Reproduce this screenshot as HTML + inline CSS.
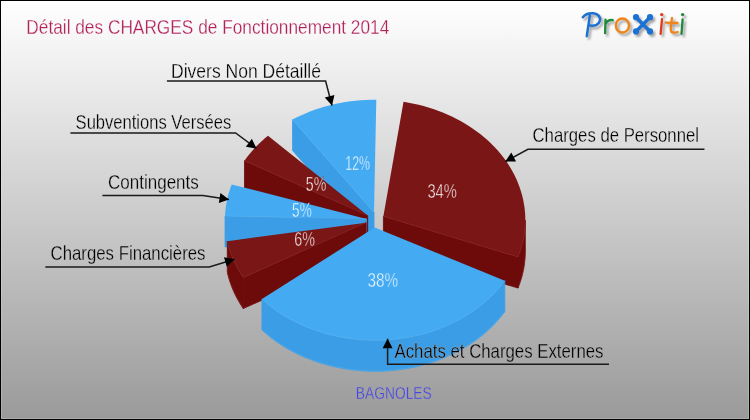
<!DOCTYPE html>
<html><head><meta charset="utf-8"><style>
html,body{margin:0;padding:0;}
body{width:750px;height:420px;overflow:hidden;position:relative;font-family:"Liberation Sans",sans-serif;}
svg{position:absolute;left:0;top:0;}
svg text{font-family:"Liberation Sans",sans-serif;}
</style></head><body>
<svg width="750" height="420" viewBox="0 0 750 420">
<defs>
<linearGradient id="bg" x1="0" y1="0" x2="0" y2="1">
<stop offset="0" stop-color="#ffffff"/>
<stop offset="1" stop-color="#9a9a9a"/>
</linearGradient>
<linearGradient id="bgu" gradientUnits="userSpaceOnUse" x1="0" y1="1" x2="0" y2="419">
<stop offset="0" stop-color="#ffffff"/>
<stop offset="1" stop-color="#9a9a9a"/>
</linearGradient>
<filter id="id" x="0" y="0" width="750" height="420" filterUnits="userSpaceOnUse"><feOffset dx="0" dy="0"/></filter>
<filter id="blur" x="-10%" y="-10%" width="120%" height="120%"><feGaussianBlur stdDeviation="0.8"/></filter>
</defs>
<rect x="0" y="0" width="750" height="420" fill="#000"/>
<rect x="1" y="1" width="748" height="418" fill="url(#bg)"/>
<rect x="1.5" y="1.5" width="747" height="417" fill="none" stroke="#ffffff" stroke-opacity="0.18" stroke-width="1"/>
<path d="M374.00,212.30 L292.52,119.52 L292.52,150.52 L374.00,243.30Z" fill="#3b9de5" stroke="#3b9de5" stroke-width="0.8" stroke-linejoin="round"/>
<path d="M374.00,212.30 L292.52,119.52 L296.93,117.29 L301.43,115.17 L306.01,113.19 L310.68,111.33 L315.43,109.60 L320.25,108.01 L325.14,106.55 L330.08,105.23 L335.08,104.05 L340.13,103.00 L345.22,102.10 L350.35,101.34 L355.51,100.72 L360.69,100.25 L365.89,99.92 L371.10,99.73 L376.31,99.69Z" fill="#44aaf2"/>
<path d="M374.00,212.30 L292.52,119.52" fill="none" stroke="#6cc4ff" stroke-width="1" stroke-opacity="0.3"/>
<path d="M525.31,219.99 L525.22,224.18 L524.95,228.36 L524.49,232.53 L523.86,236.69 L523.04,240.82 L522.05,244.93 L520.87,249.01 L519.52,253.06 L518.00,257.06 L518.00,288.06 L519.52,284.06 L520.87,280.01 L522.05,275.93 L523.04,271.82 L523.86,267.69 L524.49,263.53 L524.95,259.36 L525.22,255.18 L525.31,250.99Z" fill="#6d0a0a" stroke="#6d0a0a" stroke-width="0.8" stroke-linejoin="round"/>
<path d="M383.40,216.30 L518.00,257.06 L518.00,288.06 L383.40,247.30Z" fill="#6d0a0a" stroke="#6d0a0a" stroke-width="0.8" stroke-linejoin="round"/>
<path d="M383.40,216.30 L403.53,101.86 L408.61,102.72 L413.65,103.71 L418.64,104.85 L423.58,106.12 L428.47,107.53 L433.29,109.08 L438.04,110.75 L442.71,112.56 L447.31,114.50 L451.82,116.56 L456.23,118.74 L460.55,121.05 L464.77,123.47 L468.88,126.01 L472.88,128.66 L476.76,131.42 L480.52,134.29 L484.16,137.26 L487.66,140.33 L491.03,143.49 L494.26,146.74 L497.35,150.09 L500.30,153.51 L503.09,157.02 L505.73,160.60 L508.22,164.25 L510.54,167.97 L512.70,171.75 L514.70,175.58 L516.54,179.47 L518.20,183.41 L519.69,187.40 L521.01,191.42 L522.16,195.47 L523.13,199.56 L523.92,203.67 L524.54,207.80 L524.97,211.94 L525.23,216.09 L525.31,220.25 L525.21,224.41 L524.93,228.56 L524.47,232.70 L523.83,236.83 L523.02,240.94 L522.02,245.02 L520.86,249.07 L519.51,253.09 L518.00,257.06Z" fill="#7a1616"/>
<path d="M383.40,216.30 L518.00,257.06" fill="none" stroke="#a03434" stroke-width="1" stroke-opacity="0.3"/>
<path d="M525.31,219.99 L525.22,224.18 L524.95,228.36 L524.49,232.53 L523.86,236.69 L523.04,240.82 L522.05,244.93 L520.87,249.01 L519.52,253.06 L518.00,257.06" fill="none" stroke="#a03434" stroke-width="1" stroke-opacity="0.3"/>
<path d="M525.31,250.49 L525.22,254.68 L524.95,258.86 L524.49,263.03 L523.86,267.19 L523.04,271.32 L522.05,275.43 L520.87,279.51 L519.52,283.56 L518.00,287.56" fill="none" stroke="#a03434" stroke-width="1" stroke-opacity="0.25"/>
<path d="M367.70,215.60 L244.47,160.68 L244.47,191.68 L367.70,246.60Z" fill="#6d0a0a" stroke="#6d0a0a" stroke-width="0.8" stroke-linejoin="round"/>
<path d="M367.70,215.60 L244.47,160.68 L246.95,157.30 L249.57,153.99 L252.32,150.74 L255.21,147.57 L258.22,144.48 L261.35,141.47 L264.61,138.54 L267.98,135.70Z" fill="#7a1616"/>
<path d="M367.70,215.60 L244.47,160.68" fill="none" stroke="#a03434" stroke-width="1" stroke-opacity="0.3"/>
<path d="M366.50,218.90 L225.03,215.98 L225.03,246.98 L366.50,249.90Z" fill="#3b9de5" stroke="#3b9de5" stroke-width="0.8" stroke-linejoin="round"/>
<path d="M366.50,218.90 L225.03,215.98 L225.28,211.97 L225.70,207.96 L226.29,203.97 L227.04,200.00 L227.95,196.05 L229.03,192.13 L230.28,188.23 L231.68,184.38Z" fill="#44aaf2"/>
<path d="M366.50,218.90 L225.03,215.98" fill="none" stroke="#6cc4ff" stroke-width="1" stroke-opacity="0.3"/>
<path d="M243.25,277.54 L241.00,274.11 L238.90,270.62 L236.93,267.08 L235.11,263.49 L233.43,259.85 L231.90,256.17 L230.52,252.46 L229.29,248.71 L228.21,244.93 L227.29,241.13 L227.29,272.13 L228.21,275.93 L229.29,279.71 L230.52,283.46 L231.90,287.17 L233.43,290.85 L235.11,294.49 L236.93,298.08 L238.90,301.62 L241.00,305.11 L243.25,308.54Z" fill="#6d0a0a" stroke="#6d0a0a" stroke-width="0.8" stroke-linejoin="round"/>
<path d="M366.10,222.70 L243.25,277.54 L243.25,308.54 L366.10,253.70Z" fill="#6d0a0a" stroke="#6d0a0a" stroke-width="0.8" stroke-linejoin="round"/>
<path d="M366.10,222.70 L243.25,277.54 L241.00,274.11 L238.90,270.62 L236.93,267.08 L235.11,263.49 L233.43,259.85 L231.90,256.17 L230.52,252.46 L229.29,248.71 L228.21,244.93 L227.29,241.13Z" fill="#7a1616"/>
<path d="M366.10,222.70 L243.25,277.54" fill="none" stroke="#a03434" stroke-width="1" stroke-opacity="0.3"/>
<path d="M243.25,277.54 L241.00,274.11 L238.90,270.62 L236.93,267.08 L235.11,263.49 L233.43,259.85 L231.90,256.17 L230.52,252.46 L229.29,248.71 L228.21,244.93 L227.29,241.13" fill="none" stroke="#a03434" stroke-width="1" stroke-opacity="0.3"/>
<path d="M243.25,308.04 L241.00,304.61 L238.90,301.12 L236.93,297.58 L235.11,293.99 L233.43,290.35 L231.90,286.67 L230.52,282.96 L229.29,279.21 L228.21,275.43 L227.29,271.63" fill="none" stroke="#a03434" stroke-width="1" stroke-opacity="0.25"/>
<path d="M504.78,280.70 L502.09,284.25 L499.25,287.71 L496.27,291.10 L493.14,294.40 L489.86,297.61 L486.46,300.73 L482.92,303.76 L479.25,306.68 L475.46,309.51 L471.55,312.22 L467.52,314.83 L463.39,317.32 L459.15,319.70 L454.81,321.96 L450.38,324.10 L445.85,326.12 L441.25,328.00 L436.56,329.77 L431.80,331.40 L426.98,332.89 L422.09,334.26 L417.14,335.49 L412.15,336.58 L407.11,337.53 L402.04,338.34 L396.93,339.02 L391.80,339.55 L386.65,339.94 L381.48,340.18 L376.30,340.29 L371.13,340.25 L365.96,340.07 L360.80,339.74 L355.66,339.27 L350.54,338.67 L345.45,337.92 L340.39,337.03 L335.38,336.00 L330.41,334.83 L325.50,333.53 L320.64,332.09 L315.85,330.52 L311.13,328.82 L306.49,326.99 L301.93,325.03 L297.45,322.95 L293.07,320.74 L288.78,318.42 L284.60,315.98 L280.52,313.42 L276.56,310.75 L272.72,307.98 L268.99,305.10 L265.39,302.12 L261.93,299.04 L261.93,330.04 L265.39,333.12 L268.99,336.10 L272.72,338.98 L276.56,341.75 L280.52,344.42 L284.60,346.98 L288.78,349.42 L293.07,351.74 L297.45,353.95 L301.93,356.03 L306.49,357.99 L311.13,359.82 L315.85,361.52 L320.64,363.09 L325.50,364.53 L330.41,365.83 L335.38,367.00 L340.39,368.03 L345.45,368.92 L350.54,369.67 L355.66,370.27 L360.80,370.74 L365.96,371.07 L371.13,371.25 L376.30,371.29 L381.48,371.18 L386.65,370.94 L391.80,370.55 L396.93,370.02 L402.04,369.34 L407.11,368.53 L412.15,367.58 L417.14,366.49 L422.09,365.26 L426.98,363.89 L431.80,362.40 L436.56,360.77 L441.25,359.00 L445.85,357.12 L450.38,355.10 L454.81,352.96 L459.15,350.70 L463.39,348.32 L467.52,345.83 L471.55,343.22 L475.46,340.51 L479.25,337.68 L482.92,334.76 L486.46,331.73 L489.86,328.61 L493.14,325.40 L496.27,322.10 L499.25,318.71 L502.09,315.25 L504.78,311.70Z" fill="#3b9de5" stroke="#3b9de5" stroke-width="0.8" stroke-linejoin="round"/>
<path d="M374.70,227.50 L504.78,280.70 L502.09,284.25 L499.25,287.71 L496.27,291.10 L493.14,294.40 L489.86,297.61 L486.46,300.73 L482.92,303.76 L479.25,306.68 L475.46,309.51 L471.55,312.22 L467.52,314.83 L463.39,317.32 L459.15,319.70 L454.81,321.96 L450.38,324.10 L445.85,326.12 L441.25,328.00 L436.56,329.77 L431.80,331.40 L426.98,332.89 L422.09,334.26 L417.14,335.49 L412.15,336.58 L407.11,337.53 L402.04,338.34 L396.93,339.02 L391.80,339.55 L386.65,339.94 L381.48,340.18 L376.30,340.29 L371.13,340.25 L365.96,340.07 L360.80,339.74 L355.66,339.27 L350.54,338.67 L345.45,337.92 L340.39,337.03 L335.38,336.00 L330.41,334.83 L325.50,333.53 L320.64,332.09 L315.85,330.52 L311.13,328.82 L306.49,326.99 L301.93,325.03 L297.45,322.95 L293.07,320.74 L288.78,318.42 L284.60,315.98 L280.52,313.42 L276.56,310.75 L272.72,307.98 L268.99,305.10 L265.39,302.12 L261.93,299.04Z" fill="#44aaf2"/>
<path d="M504.78,280.70 L502.09,284.25 L499.25,287.71 L496.27,291.10 L493.14,294.40 L489.86,297.61 L486.46,300.73 L482.92,303.76 L479.25,306.68 L475.46,309.51 L471.55,312.22 L467.52,314.83 L463.39,317.32 L459.15,319.70 L454.81,321.96 L450.38,324.10 L445.85,326.12 L441.25,328.00 L436.56,329.77 L431.80,331.40 L426.98,332.89 L422.09,334.26 L417.14,335.49 L412.15,336.58 L407.11,337.53 L402.04,338.34 L396.93,339.02 L391.80,339.55 L386.65,339.94 L381.48,340.18 L376.30,340.29 L371.13,340.25 L365.96,340.07 L360.80,339.74 L355.66,339.27 L350.54,338.67 L345.45,337.92 L340.39,337.03 L335.38,336.00 L330.41,334.83 L325.50,333.53 L320.64,332.09 L315.85,330.52 L311.13,328.82 L306.49,326.99 L301.93,325.03 L297.45,322.95 L293.07,320.74 L288.78,318.42 L284.60,315.98 L280.52,313.42 L276.56,310.75 L272.72,307.98 L268.99,305.10 L265.39,302.12 L261.93,299.04" fill="none" stroke="#6cc4ff" stroke-width="1" stroke-opacity="0.3"/>
<path d="M504.78,311.20 L502.09,314.75 L499.25,318.21 L496.27,321.60 L493.14,324.90 L489.86,328.11 L486.46,331.23 L482.92,334.26 L479.25,337.18 L475.46,340.01 L471.55,342.72 L467.52,345.33 L463.39,347.82 L459.15,350.20 L454.81,352.46 L450.38,354.60 L445.85,356.62 L441.25,358.50 L436.56,360.27 L431.80,361.90 L426.98,363.39 L422.09,364.76 L417.14,365.99 L412.15,367.08 L407.11,368.03 L402.04,368.84 L396.93,369.52 L391.80,370.05 L386.65,370.44 L381.48,370.68 L376.30,370.79 L371.13,370.75 L365.96,370.57 L360.80,370.24 L355.66,369.77 L350.54,369.17 L345.45,368.42 L340.39,367.53 L335.38,366.50 L330.41,365.33 L325.50,364.03 L320.64,362.59 L315.85,361.02 L311.13,359.32 L306.49,357.49 L301.93,355.53 L297.45,353.45 L293.07,351.24 L288.78,348.92 L284.60,346.48 L280.52,343.92 L276.56,341.25 L272.72,338.48 L268.99,335.60 L265.39,332.62 L261.93,329.54" fill="none" stroke="#6cc4ff" stroke-width="1" stroke-opacity="0.25"/>
<g filter="url(#id)"><text x="345.3" y="170" textLength="24.7" lengthAdjust="spacingAndGlyphs" font-size="21" fill="#ffffff" stroke="#44aaf2" stroke-width="0.5">12%</text><text x="427.4" y="198.1" textLength="29.5" lengthAdjust="spacingAndGlyphs" font-size="21" fill="#ffffff" stroke="#7a1616" stroke-width="0.5">34%</text><text x="305.8" y="190.8" textLength="20.5" lengthAdjust="spacingAndGlyphs" font-size="21" fill="#ffffff" stroke="#7a1616" stroke-width="0.5">5%</text><text x="292.1" y="217.1" textLength="19.6" lengthAdjust="spacingAndGlyphs" font-size="21" fill="#ffffff" stroke="#44aaf2" stroke-width="0.5">5%</text><text x="294.3" y="246.1" textLength="20.7" lengthAdjust="spacingAndGlyphs" font-size="21" fill="#ffffff" stroke="#7a1616" stroke-width="0.5">6%</text><text x="367.4" y="287.2" textLength="30.6" lengthAdjust="spacingAndGlyphs" font-size="21" fill="#ffffff" stroke="#44aaf2" stroke-width="0.5">38%</text></g>
<polyline points="166.90,81.10 325.60,81.10 332.00,105.50" fill="none" stroke="#1a1a1a" stroke-width="1.5"/><path d="M332.00,105.50 L324.75,97.58 L334.43,95.04Z" fill="#000"/><polyline points="70.40,133.00 235.60,133.00 256.50,148.50" fill="none" stroke="#1a1a1a" stroke-width="1.5"/><path d="M256.50,148.50 L245.89,146.86 L251.85,138.82Z" fill="#000"/><polyline points="102.40,195.40 203.00,195.40 229.00,199.50" fill="none" stroke="#1a1a1a" stroke-width="1.5"/><path d="M229.00,199.50 L218.84,202.96 L220.39,193.08Z" fill="#000"/><polyline points="45.30,267.00 209.30,267.00 234.50,259.30" fill="none" stroke="#1a1a1a" stroke-width="1.5"/><path d="M234.50,259.30 L226.88,266.86 L223.95,257.29Z" fill="#000"/><polyline points="704.50,149.30 527.90,149.30 505.30,161.50" fill="none" stroke="#1a1a1a" stroke-width="1.5"/><path d="M505.30,161.50 L511.28,152.59 L516.03,161.39Z" fill="#000"/><polyline points="609.00,364.30 387.60,364.30 387.60,338.80" fill="none" stroke="#1a1a1a" stroke-width="1.5"/><path d="M387.60,338.80 L392.60,348.30 L382.60,348.30Z" fill="#000"/>
<g filter="url(#id)"><text x="171" y="77.9" textLength="150" lengthAdjust="spacingAndGlyphs" font-size="21" fill="#000000" stroke="url(#bgu)" stroke-width="0.3">Divers Non Détaillé</text><text x="75.6" y="128.8" textLength="155.6" lengthAdjust="spacingAndGlyphs" font-size="21" fill="#000000" stroke="url(#bgu)" stroke-width="0.3">Subventions Versées</text><text x="108" y="189.2" textLength="90.8" lengthAdjust="spacingAndGlyphs" font-size="21" fill="#000000" stroke="url(#bgu)" stroke-width="0.3">Contingents</text><text x="50.5" y="259.8" textLength="155" lengthAdjust="spacingAndGlyphs" font-size="21" fill="#000000" stroke="url(#bgu)" stroke-width="0.3">Charges Financières</text><text x="532.5" y="142.3" textLength="166.5" lengthAdjust="spacingAndGlyphs" font-size="21" fill="#000000" stroke="url(#bgu)" stroke-width="0.3">Charges de Personnel</text><text x="394.5" y="358.3" textLength="209" lengthAdjust="spacingAndGlyphs" font-size="21" fill="#000000" stroke="url(#bgu)" stroke-width="0.3">Achats et Charges Externes</text></g>
<g filter="url(#id)"><text x="26.3" y="33.9" textLength="363" lengthAdjust="spacingAndGlyphs" font-size="21" fill="#b2205a" stroke="url(#bgu)" stroke-width="0.3">Détail des CHARGES de Fonctionnement 2014</text>
<text x="355.8" y="399.2" textLength="76" lengthAdjust="spacingAndGlyphs" font-size="17" fill="#4646e6" stroke="url(#bgu)" stroke-width="0.3">BAGNOLES</text></g>
<g filter="url(#blur)" opacity="0.9"><g transform="translate(2.2,2.4)" fill="none" stroke-linecap="round" stroke-linejoin="round"><path d="M582.8,17.2 C585.5,13.8 589.5,12.9 593.5,13.3 C598.5,13.9 600.6,17.2 599.9,20.6 C599.1,24.4 595,26.6 589.6,25.4 M589.8,15.4 C589,22 587.6,30 586.8,36.2" stroke="#9a9a9a" stroke-width="2.5"/><path d="M605.5,19.6 L605.1,33.2 M605.6,24 C607,21 610,19.6 612.8,20.2" stroke="#9a9a9a" stroke-width="2.3"/><ellipse cx="622.4" cy="25.5" rx="6.6" ry="7.0" stroke="#9a9a9a" stroke-width="2.4"/><path d="M636,17.2 L650,31.4 M650,17.2 L636,31.4" stroke="#9a9a9a" stroke-width="3.5"/><circle cx="636" cy="17.2" r="3.1" fill="#9a9a9a" stroke="none"/><circle cx="650" cy="17.2" r="3.1" fill="#9a9a9a" stroke="none"/><circle cx="636" cy="31.4" r="3.1" fill="#9a9a9a" stroke="none"/><circle cx="650" cy="31.4" r="3.1" fill="#9a9a9a" stroke="none"/><path d="M662,19.2 L660.6,33.8" stroke="#9a9a9a" stroke-width="2.3"/><circle cx="661.7" cy="14.6" r="1.7" fill="#9a9a9a" stroke="none"/><path d="M672,17.8 C671.2,23 670.6,28 670.8,30.5 C671,32.8 674,33 677.6,32" stroke="#9a9a9a" stroke-width="2.3"/><path d="M665.8,22.6 L677.6,23" stroke="#9a9a9a" stroke-width="2.3"/><path d="M682.6,19.4 L681.5,33.8" stroke="#9a9a9a" stroke-width="2.3"/><circle cx="682.6" cy="14.6" r="1.7" fill="#9a9a9a" stroke="none"/></g></g>
<g transform="translate(0,0)" fill="none" stroke-linecap="round" stroke-linejoin="round"><path d="M582.8,17.2 C585.5,13.8 589.5,12.9 593.5,13.3 C598.5,13.9 600.6,17.2 599.9,20.6 C599.1,24.4 595,26.6 589.6,25.4 M589.8,15.4 C589,22 587.6,30 586.8,36.2" stroke="#1b72d2" stroke-width="2.5"/><path d="M605.5,19.6 L605.1,33.2 M605.6,24 C607,21 610,19.6 612.8,20.2" stroke="#1e8a3c" stroke-width="2.3"/><ellipse cx="622.4" cy="25.5" rx="6.6" ry="7.0" stroke="#f08418" stroke-width="2.4"/><path d="M636,17.2 L650,31.4 M650,17.2 L636,31.4" stroke="#1b72d2" stroke-width="3.5"/><circle cx="636" cy="17.2" r="3.1" fill="#1b72d2" stroke="none"/><circle cx="650" cy="17.2" r="3.1" fill="#1b72d2" stroke="none"/><circle cx="636" cy="31.4" r="3.1" fill="#1b72d2" stroke="none"/><circle cx="650" cy="31.4" r="3.1" fill="#1b72d2" stroke="none"/><path d="M662,19.2 L660.6,33.8" stroke="#e23a16" stroke-width="2.3"/><circle cx="661.7" cy="14.6" r="1.7" fill="#e23a16" stroke="none"/><path d="M672,17.8 C671.2,23 670.6,28 670.8,30.5 C671,32.8 674,33 677.6,32" stroke="#f08418" stroke-width="2.3"/><path d="M665.8,22.6 L677.6,23" stroke="#f08418" stroke-width="2.3"/><path d="M682.6,19.4 L681.5,33.8" stroke="#1e8a3c" stroke-width="2.3"/><circle cx="682.6" cy="14.6" r="1.7" fill="#1e8a3c" stroke="none"/></g>
</svg>
</body></html>
